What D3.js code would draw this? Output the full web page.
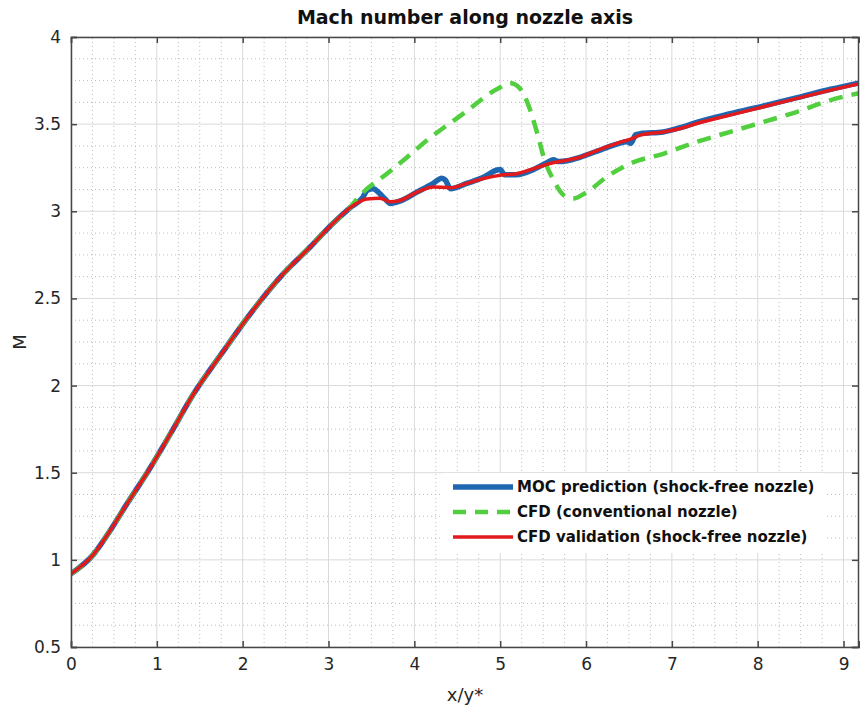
<!DOCTYPE html>
<html>
<head>
<meta charset="utf-8">
<script src="https://cdn.jsdelivr.net/npm/d3@7"></script>
<style>
body { margin: 0; background: #fff; }
svg { display: block; font-family: "DejaVu Sans", sans-serif; }
</style>
</head>
<body>
<script>
"use strict";
// MOC prediction (shock-free nozzle)
const mocX = [0, 0.26, 0.455, 0.65, 0.9, 1.154, 1.425, 1.75, 2.048, 2.474, 2.786, 3.05, 3.25, 3.4, 3.45, 3.52, 3.6, 3.66, 3.72, 3.83, 4.03, 4.22, 4.32, 4.36, 4.42, 4.61, 4.805, 4.95, 5.0, 5.05, 5.19, 5.39, 5.55, 5.62, 5.68, 5.78, 5.93, 6.13, 6.36, 6.48, 6.52, 6.58, 6.63, 6.9, 7.1, 7.29, 7.68, 8.07, 8.46, 8.85, 9.2];
const mocM = [0.92, 1.03, 1.167, 1.32, 1.51, 1.72, 1.95, 2.18, 2.385, 2.642, 2.795, 2.93, 3.02, 3.08, 3.12, 3.13, 3.1, 3.07, 3.045, 3.058, 3.11, 3.16, 3.19, 3.18, 3.13, 3.16, 3.195, 3.235, 3.24, 3.21, 3.21, 3.24, 3.28, 3.295, 3.285, 3.29, 3.31, 3.345, 3.385, 3.4, 3.39, 3.44, 3.445, 3.455, 3.48, 3.51, 3.56, 3.605, 3.652, 3.7, 3.738];
// CFD (conventional nozzle)
const convX = [0, 0.26, 0.455, 0.65, 0.9, 1.154, 1.425, 1.75, 2.048, 2.474, 2.786, 3.05, 3.25, 3.33, 3.45, 3.56, 3.83, 4.18, 4.57, 4.96, 5.12, 5.23, 5.35, 5.43, 5.52, 5.62, 5.74, 5.85, 6.01, 6.24, 6.515, 6.9, 7.29, 7.68, 8.07, 8.46, 8.85, 9.2];
const convM = [0.92, 1.03, 1.167, 1.32, 1.51, 1.72, 1.95, 2.18, 2.385, 2.642, 2.795, 2.93, 3.02, 3.07, 3.13, 3.17, 3.275, 3.42, 3.56, 3.7, 3.735, 3.705, 3.58, 3.45, 3.29, 3.18, 3.092, 3.073, 3.11, 3.197, 3.274, 3.33, 3.398, 3.456, 3.513, 3.571, 3.638, 3.68];
// CFD validation (shock-free nozzle)
const valX = [0, 0.26, 0.455, 0.65, 0.9, 1.154, 1.425, 1.75, 2.048, 2.474, 2.786, 3.05, 3.25, 3.446, 3.6, 3.72, 3.83, 4.03, 4.22, 4.42, 4.61, 4.805, 5.0, 5.19, 5.39, 5.58, 5.78, 5.93, 6.13, 6.36, 6.55, 6.63, 6.9, 7.1, 7.29, 7.68, 8.07, 8.46, 8.85, 9.2];
const valM = [0.92, 1.03, 1.167, 1.32, 1.51, 1.72, 1.95, 2.18, 2.385, 2.642, 2.795, 2.93, 3.02, 3.07, 3.075, 3.055, 3.062, 3.11, 3.14, 3.135, 3.16, 3.188, 3.207, 3.215, 3.245, 3.274, 3.293, 3.31, 3.35, 3.39, 3.42, 3.437, 3.455, 3.475, 3.504, 3.552, 3.6, 3.648, 3.695, 3.734];

const xTicks = [0, 1, 2, 3, 4, 5, 6, 7, 8, 9];
const yTicks = [0.5, 1, 1.5, 2, 2.5, 3, 3.5, 4];
const labels = ["MOC prediction (shock-free nozzle)", "CFD (conventional nozzle)", "CFD validation (shock-free nozzle)"];

const W = 860, H = 712;
const m = {left: 71, right: 1, top: 37, bottom: 65};
const svg = d3.select("body").append("svg").attr("width", W).attr("height", H);
const x = d3.scaleLinear().domain([0, 9.18]).range([m.left, W - m.right]);
const y = d3.scaleLinear().domain([0.5, 4]).range([H - m.bottom, m.top]);
const x0 = m.left, x1 = W - m.right, y0 = H - m.bottom, y1 = m.top;

// minor grid
const xMinor = d3.range(0, 9.18, 0.25).filter(v => v % 1 !== 0);
const yMinor = d3.range(0.5, 4, 0.125).filter(v => v % 0.5 !== 0);
const grid = svg.append("g");
grid.selectAll(".mx").data(xMinor).enter().append("line")
	.attr("x1", d => x(d)).attr("x2", d => x(d)).attr("y1", y0).attr("y2", y1)
	.attr("stroke", "#bdbdbd").attr("stroke-width", 1).attr("stroke-dasharray", "1,3");
grid.selectAll(".my").data(yMinor).enter().append("line")
	.attr("y1", d => y(d)).attr("y2", d => y(d)).attr("x1", x0).attr("x2", x1)
	.attr("stroke", "#bdbdbd").attr("stroke-width", 1).attr("stroke-dasharray", "1,3");
// major grid
grid.selectAll(".gx").data(xTicks).enter().append("line")
	.attr("x1", d => x(d)).attr("x2", d => x(d)).attr("y1", y0).attr("y2", y1)
	.attr("stroke", "#dadada").attr("stroke-width", 1);
grid.selectAll(".gy").data(yTicks).enter().append("line")
	.attr("y1", d => y(d)).attr("y2", d => y(d)).attr("x1", x0).attr("x2", x1)
	.attr("stroke", "#dadada").attr("stroke-width", 1);

// lines
svg.append("clipPath").attr("id", "clip").append("rect")
	.attr("x", x0).attr("y", y1).attr("width", x1 - x0).attr("height", y0 - y1);
const line = d3.line().x(d => x(d[0])).y(d => y(d[1])).curve(d3.curveMonotoneX);
const plot = svg.append("g").attr("clip-path", "url(#clip)");
plot.append("path").datum(d3.zip(mocX, mocM)).attr("d", line)
	.attr("fill", "none").attr("stroke", "#1f66b0").attr("stroke-width", 5.5);
plot.append("path").datum(d3.zip(convX, convM)).attr("d", line)
	.attr("fill", "none").attr("stroke", "#52cf3f").attr("stroke-width", 4.5).attr("stroke-dasharray", "14,9");
plot.append("path").datum(d3.zip(valX, valM)).attr("d", line)
	.attr("fill", "none").attr("stroke", "#e31a1c").attr("stroke-width", 3.5);

// axes box
const axisColor = "#474747";
svg.append("g").attr("transform", "translate(0," + y0 + ")")
	.call(d3.axisBottom(x).tickValues(xTicks).tickSize(-6).tickPadding(11).tickFormat(d3.format("d")));
svg.append("g").attr("transform", "translate(0," + y1 + ")")
	.call(d3.axisTop(x).tickValues(xTicks).tickSize(-6).tickFormat(""));
svg.append("g").attr("transform", "translate(" + x0 + ",0)")
	.call(d3.axisLeft(y).tickValues(yTicks).tickSize(-6).tickPadding(10).tickFormat(d3.format("")));
svg.append("g").attr("transform", "translate(" + (x1 - 1) + ",0)")
	.call(d3.axisRight(y).tickValues(yTicks).tickSize(-6).tickFormat(""));
svg.selectAll(".domain").attr("stroke", axisColor).attr("stroke-width", 1.5);
svg.selectAll(".tick line").attr("stroke", axisColor).attr("stroke-width", 1.5);
svg.selectAll(".tick text").attr("font-family", "DejaVu Sans").attr("font-size", 17).attr("fill", "#262626");

// labels
svg.append("text").attr("x", (x0 + x1) / 2).attr("y", 24).attr("text-anchor", "middle")
	.attr("font-size", 19).attr("font-weight", "bold").attr("fill", "#111").text("Mach number along nozzle axis");
svg.append("text").attr("x", (x0 + x1) / 2).attr("y", 701).attr("text-anchor", "middle")
	.attr("font-size", 18).attr("fill", "#262626").text("x/y*");
svg.append("text").attr("transform", "translate(26," + ((y0 + y1) / 2) + ") rotate(-90)").attr("text-anchor", "middle")
	.attr("font-size", 18).attr("fill", "#262626").text("M");

// legend
const lg = svg.append("g");
lg.append("rect").attr("x", 443).attr("y", 473).attr("width", 383).attr("height", 80).attr("fill", "#fff");
const styles = [
	{c: "#1f66b0", w: 5.5, d: null},
	{c: "#52cf3f", w: 4.5, d: "13,9"},
	{c: "#e31a1c", w: 3.5, d: null},
];
labels.forEach((t, i) => {
	const ly = 487 + i * 25;
	lg.append("line").attr("x1", 453).attr("x2", 513).attr("y1", ly).attr("y2", ly)
		.attr("stroke", styles[i].c).attr("stroke-width", styles[i].w).attr("stroke-dasharray", styles[i].d);
	lg.append("text").attr("x", 517).attr("y", ly).attr("dy", "0.35em")
		.attr("font-size", 15).attr("font-weight", "bold").attr("fill", "#111").text(t);
});
</script>
</body>
</html>
